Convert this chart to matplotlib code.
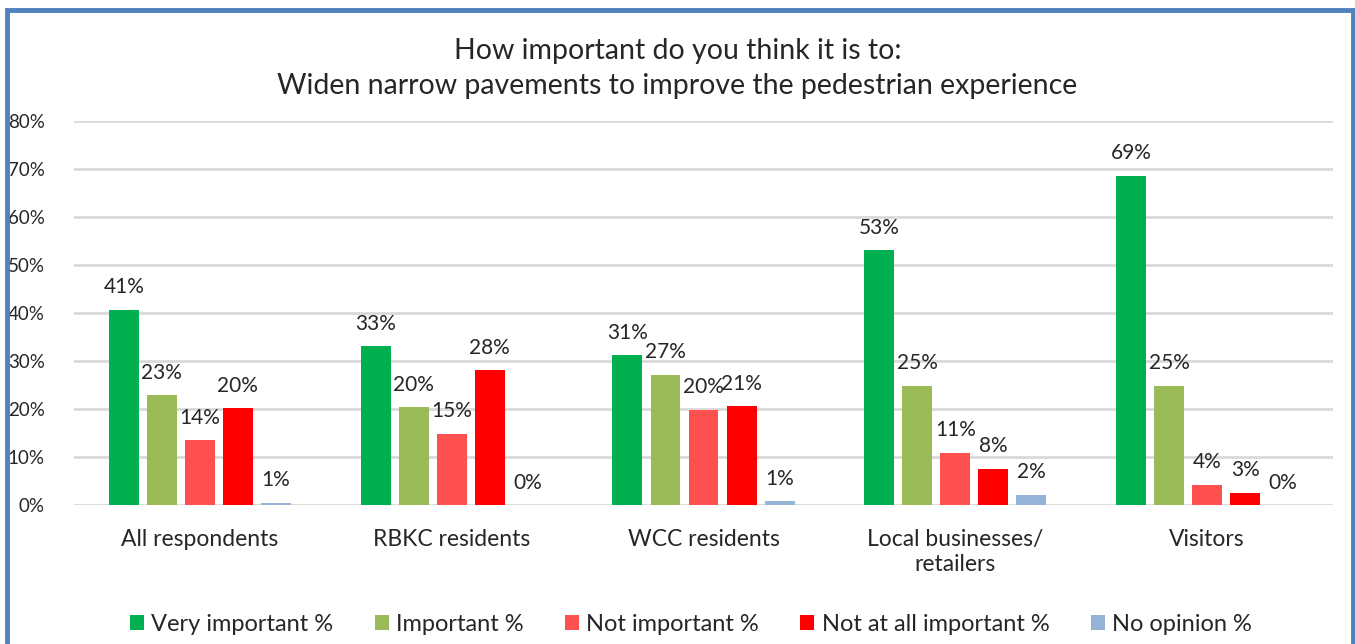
import numpy as np
import matplotlib
matplotlib.use("Agg")
import matplotlib.pyplot as plt
from matplotlib.patches import Rectangle

plt.rcParams['font.family'] = ['Lato', 'DejaVu Sans']

groups = ["All respondents", "RBKC residents", "WCC residents",
          "Local businesses/\nretailers", "Visitors"]
series = ["Very important %", "Important %", "Not important %",
          "Not at all important %", "No opinion %"]
very_important = [40.7, 33.1, 31.2, 53.1, 68.6]
important = [22.9, 20.4, 27.1, 24.8, 24.8]
not_important = [13.5, 14.8, 19.9, 10.9, 4.2]
not_at_all = [20.2, 28.1, 20.6, 7.6, 2.6]
no_opinion = [0.5, 0.0, 0.8, 2.1, 0.0]
colors = ["#00B050", "#9BBB59", "#FF5050", "#FF0000", "#95B3D7"]

values = [very_important, important, not_important, not_at_all, no_opinion]
text_col = "#262626"

fig = plt.figure(figsize=(13.55, 6.44), dpi=100)
ax = fig.add_axes([0.0546, 0.2158, 0.9292, 0.5963])

x = np.arange(len(groups))
step = 0.151
width = 0.119
for i, (vals, name, c) in enumerate(zip(values, series, colors)):
    pos = x + (i - 2) * step
    bars = ax.bar(pos, vals, width, color=c, label=name, zorder=3)
    for b, v in zip(bars, vals):
        ax.annotate("{}%".format(int(v + 0.5)), (b.get_x() + b.get_width() / 2, v),
                    xytext=(0, 9), textcoords="offset points",
                    ha="center", va="bottom", fontsize=15, color=text_col)

ax.set_xlim(-0.5, 4.5)
ax.set_ylim(0, 80)
ax.set_yticks(range(0, 81, 10))
ax.set_yticklabels(["{}%".format(t) for t in range(0, 81, 10)], fontsize=13.5, color=text_col)
ax.set_xticks(x)
ax.set_xticklabels(groups, fontsize=16.5, color=text_col, linespacing=1.25)
ax.tick_params(axis="both", length=0)
ax.tick_params(axis="y", pad=21)
ax.tick_params(axis="x", pad=17)
ax.grid(axis="y", color="#D9D9D9", linewidth=2, zorder=0)
for s in ax.spines.values():
    s.set_visible(False)

fig.text(0.5, 0.921, "How important do you think it is to:", ha="center", va="center",
         fontsize=20.5, color=text_col)
fig.text(0.5, 0.866, "Widen narrow pavements to improve the pedestrian experience",
         ha="center", va="center", fontsize=20.5, color=text_col)

ax.legend(loc="center", bbox_to_anchor=(0.49, -0.31), ncol=5, frameon=False,
          fontsize=17, handlelength=0.6, handleheight=0.6, handletextpad=0.3,
          columnspacing=1.75, labelcolor=text_col)

# blue frame around the chart
fig.patches.append(Rectangle((7 / 1355, -0.05), 1346 / 1355, 1 - 10 / 644 + 0.05,
                             transform=fig.transFigure, fill=False,
                             edgecolor="#4F81BD", linewidth=3.5))

fig.savefig("out.png", dpi=100, facecolor="white")
